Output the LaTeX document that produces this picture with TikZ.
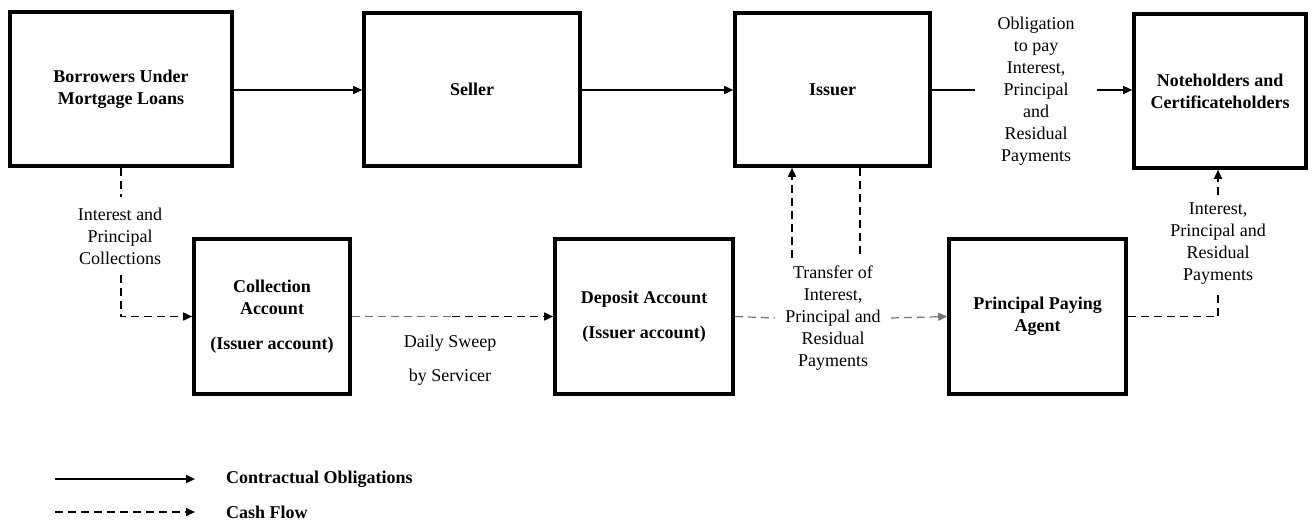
\documentclass[tikz,border=0pt]{standalone}
\usepackage{fontspec}
\setmainfont{Liberation Serif}
\usetikzlibrary{arrows.meta}
\begin{document}
\begin{tikzpicture}[x=1pt,y=-1pt,
  box/.style={draw, line width=3.6pt, align=center, font=\bfseries\fontsize{18}{22}\selectfont, inner sep=0pt},
  lbl/.style={align=center, font=\fontsize{18}{22}\selectfont, inner xsep=8pt, inner ysep=6pt},
  tip/.style={-{Triangle[length=9pt,width=8pt]}},
  contract/.style={line width=1.6pt},
  cash/.style={line width=1.6pt, dash pattern=on 8pt off 5pt},
  cashlight/.style={line width=1.2pt, dash pattern=on 8pt off 5pt, draw=black!55}
]
\useasboundingbox (0,0) rectangle (1316,523);

% boxes
\node[box, minimum width=222pt, minimum height=154pt] (borrowers) at (121,89) {Borrowers Under\\Mortgage Loans};
\node[box, minimum width=216pt, minimum height=153pt] (seller) at (472,89.5) {Seller};
\node[box, minimum width=195pt, minimum height=153pt] (issuer) at (832.5,89.5) {Issuer};
\node[box, minimum width=172pt, minimum height=154pt] (notes) at (1220,91) {Noteholders and\\Certificateholders};
\node[box, minimum width=156pt, minimum height=155pt] (collection) at (272,316.5) {Collection\\Account\\[13pt](Issuer account)};
\node[box, minimum width=178pt, minimum height=155pt] (deposit) at (644,316.5) {Deposit Account\\[13pt](Issuer account)};
\node[box, minimum width=177pt, minimum height=155pt] (ppa) at (1037.5,316.5) {Principal Paying\\Agent};

% labels
\node[lbl, inner xsep=22pt] (oblig) at (1036,91) {Obligation\\to pay\\Interest,\\Principal\\and\\Residual\\Payments};
\node[lbl, inner ysep=10pt] (ipc) at (120,236) {Interest and\\Principal\\Collections};
\node[lbl] (sweep) at (450,360) {Daily Sweep\\[12pt]by Servicer};
\node[lbl, inner xsep=10pt, inner ysep=8pt] (transfer) at (833,318) {Transfer of\\Interest,\\Principal and\\Residual\\Payments};
\node[lbl, inner ysep=8pt] (rlab) at (1218,244) {Interest,\\Principal and\\Residual\\Payments};

% contractual obligations
\draw[contract, tip] (borrowers.east |- 0,90) -- (seller.west |- 0,90);
\draw[contract, tip] (seller.east |- 0,90) -- (issuer.west |- 0,90);
\draw[contract] (issuer.east |- 0,90) -- (oblig.west |- 0,90);
\draw[contract, tip] (oblig.east |- 0,90) -- (notes.west |- 0,90);

% cash flows
\draw[cash] (borrowers.south) -- (ipc.north -| borrowers.south);
\draw[cash, tip] (ipc.south -| borrowers.south) |- (collection.west);
\coordinate (mid) at (452,316.5);
\draw[cashlight] (collection.east) -- (mid);
\draw[cash, tip] (mid) -- (deposit.west);
\draw[cashlight] (deposit.east) -- (transfer.west);
\draw[cashlight, tip] (transfer.east) -- (ppa.west);
\draw[cash, tip] ([xshift=-41pt]transfer.north) -- ([xshift=-41pt]transfer.north |- issuer.south);
\draw[cash] ([xshift=27pt]transfer.north |- issuer.south) -- ([xshift=27pt]transfer.north);
\draw[cash] (ppa.east) -| (rlab.south);
\draw[cash, tip] (rlab.north) -- (rlab.north |- notes.south);

% legend
\coordinate (l1a) at (55,479);
\coordinate (l1b) at (195,479);
\coordinate (l2a) at (55,512);
\coordinate (l2b) at (195,512);
\draw[contract, tip] (l1a) -- (l1b);
\draw[cash, tip] (l2a) -- (l2b);
\node[anchor=west, inner sep=0pt, font=\bfseries\fontsize{18}{22}\selectfont] (leg1) at (226,479) {Contractual Obligations};
\node[anchor=west, inner sep=0pt, font=\bfseries\fontsize{18}{22}\selectfont] (leg2) at (226,512) {Cash Flow};
\end{tikzpicture}
\end{document}
